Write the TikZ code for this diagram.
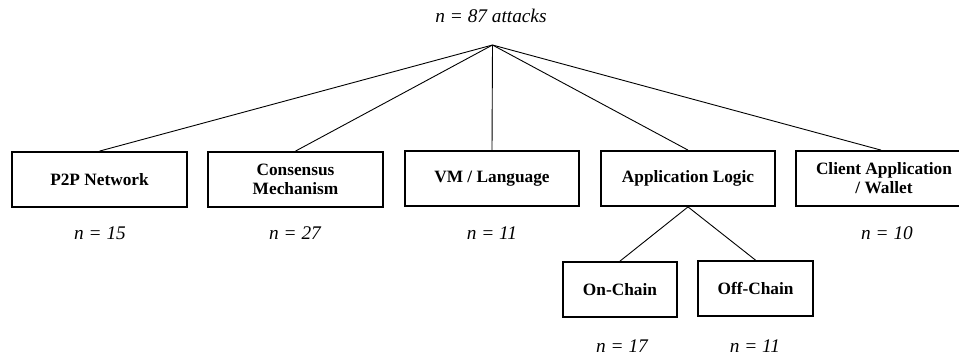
\documentclass[tikz,border=0pt]{standalone}
\usepackage{fontspec}
\setmainfont{Liberation Serif}
\begin{document}
\begin{tikzpicture}[x=1pt,y=-1pt,
  catbox/.style={draw, line width=1.8pt, inner sep=0pt, align=center,
    font=\fontsize{17.3}{19}\selectfont\bfseries},
  cnt/.style={font=\fontsize{19.3}{21}\selectfont\itshape},
  link/.style={line width=0.9pt}]
\useasboundingbox (0,0) rectangle (959,356);
\clip (0,0) rectangle (959,356);
\node[cnt] (title) at (491,16) {n = 87 attacks};
\coordinate (root) at (492.5,45);
\node[catbox, minimum width=175pt, minimum height=55pt] (p2p) at (99.5,179.5) {P2P Network};
\node[catbox, minimum width=175pt, minimum height=55pt] (cons) at (295.5,179.5) {Consensus\\Mechanism};
\node[catbox, minimum width=174pt, minimum height=55pt] (vm) at (492,178.5) {VM / Language};
\node[catbox, minimum width=174pt, minimum height=55pt] (app) at (688,178.5) {Application Logic};
\node[catbox, minimum width=176pt, minimum height=55pt] (cli) at (884,178.5) {Client Application\\/ Wallet};
\node[catbox, minimum width=114pt, minimum height=55pt] (on) at (620,289.5) {On-Chain};
\node[catbox, minimum width=115pt, minimum height=55pt] (off) at (755.5,288.5) {Off-Chain};
\node[cnt] (n1) at (100,233) {n = 15};
\node[cnt] (n2) at (295,233) {n = 27};
\node[cnt] (n3) at (492,233) {n = 11};
\node[cnt] (n5) at (887,233) {n = 10};
\node[cnt] (n6) at (622,346) {n = 17};
\node[cnt] (n7) at (755,346) {n = 11};
\foreach \b in {p2p,cons,vm,app} \draw[link] (root) -- (\b.north);
\draw[link] (root) -- ([xshift=-3pt]cli.north);
\draw[link] (app.south) -- (on.north);
\draw[link] (app.south) -- (off.north);
\end{tikzpicture}
\end{document}
